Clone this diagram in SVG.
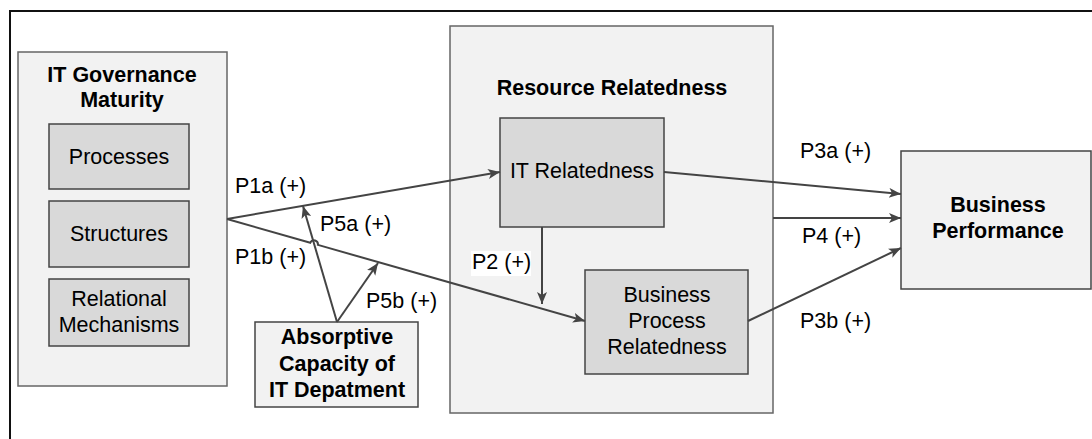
<svg xmlns="http://www.w3.org/2000/svg" width="1092" height="439" viewBox="0 0 1092 439">
<defs>
<marker id="arr" markerUnits="userSpaceOnUse" markerWidth="14" markerHeight="12" refX="12" refY="5" orient="auto">
<path d="M0,0 L12,5 L0,10 L3,5 z" fill="#444"/>
</marker>
<style>
.t{font-family:"Liberation Sans",Arial,sans-serif;font-size:21.5px;fill:#000}
.b{font-weight:bold}
.c{text-anchor:middle}
.outer{fill:#f2f2f2;stroke:#666;stroke-width:1.5}
.inner{fill:#d9d9d9;stroke:#444;stroke-width:1.5}
.ln{fill:none;stroke:#444;stroke-width:2}
</style>
</defs>
<rect width="1092" height="439" fill="#fff"/>
<path d="M10,439 V11 H1092" fill="none" stroke="#111" stroke-width="2"/>

<g id="it-governance">
<rect class="outer" x="18" y="52" width="209" height="334"/>
<text class="t b c" x="122" y="82">IT Governance</text>
<text class="t b c" x="122" y="107">Maturity</text>
</g>
<g id="processes">
<rect class="inner" x="49" y="124" width="140" height="65"/>
<text class="t c" x="119" y="164">Processes</text>
</g>
<g id="structures">
<rect class="inner" x="49" y="201" width="140" height="66"/>
<text class="t c" x="119" y="241">Structures</text>
</g>
<g id="relational">
<rect class="inner" x="49" y="279" width="140" height="67"/>
<text class="t c" x="119" y="306">Relational</text>
<text class="t c" x="119" y="332">Mechanisms</text>
</g>
<g id="resource-relatedness">
<rect class="outer" x="450" y="26" width="323" height="387"/>
<text class="t b c" x="612" y="95">Resource Relatedness</text>
</g>
<g id="it-relatedness">
<rect class="inner" x="500" y="118" width="164" height="109"/>
<text class="t c" x="582" y="178">IT Relatedness</text>
</g>
<g id="bp-relatedness">
<rect class="inner" x="585" y="270" width="163" height="104"/>
<text class="t c" x="667" y="302">Business</text>
<text class="t c" x="667" y="328">Process</text>
<text class="t c" x="667" y="354">Relatedness</text>
</g>
<g id="absorptive">
<rect class="outer" x="255" y="322" width="163" height="85" style="stroke:#444"/>
<text class="t b c" x="337" y="344">Absorptive</text>
<text class="t b c" x="337" y="371">Capacity of</text>
<text class="t b c" x="337" y="397">IT Depatment</text>
</g>
<g id="business-performance">
<rect class="outer" x="901" y="151" width="190" height="138" style="stroke:#444"/>
<text class="t b c" x="998" y="212">Business</text>
<text class="t b c" x="998" y="238">Performance</text>
</g>

<g id="connectors">
<path class="ln" d="M227,219 L500,172" marker-end="url(#arr)"/>
<path class="ln" d="M227,219 L310.3,242.7 A4,4 0 0 1 317.9,244.9 L585,321" marker-end="url(#arr)"/>
<path class="ln" d="M337,322 L303,206" marker-end="url(#arr)"/>
<path class="ln" d="M337,322 L378,263" marker-end="url(#arr)"/>
<path class="ln" d="M542,227 L542,304" marker-end="url(#arr)"/>
<path class="ln" d="M664,172 L901,194" marker-end="url(#arr)"/>
<path class="ln" d="M773,218 L901,218" marker-end="url(#arr)"/>
<path class="ln" d="M748,321 L901,248" marker-end="url(#arr)"/>
<rect x="471" y="251" width="60" height="25" fill="#fff"/>
<text class="t" x="472" y="269">P2 (+)</text>
<text class="t" x="235" y="193">P1a (+)</text>
<text class="t" x="235" y="264">P1b (+)</text>
<text class="t" x="320" y="231">P5a (+)</text>
<text class="t" x="366" y="308">P5b (+)</text>
<text class="t" x="800" y="158">P3a (+)</text>
<text class="t" x="802" y="243">P4 (+)</text>
<text class="t" x="800" y="328">P3b (+)</text>
</g>
</svg>
